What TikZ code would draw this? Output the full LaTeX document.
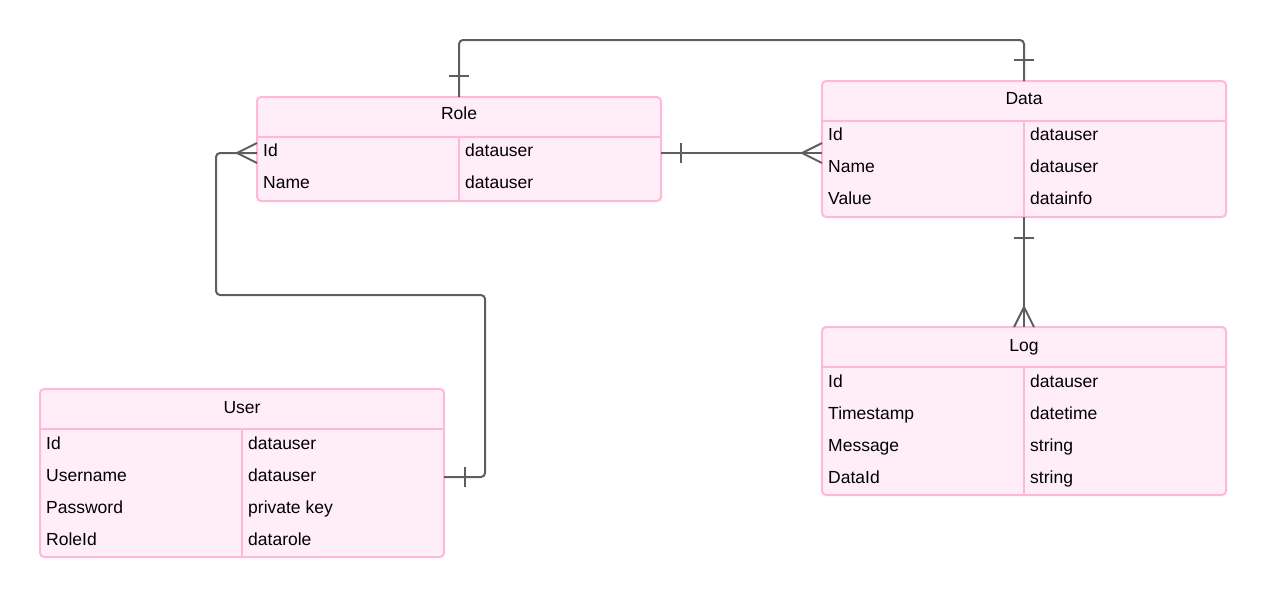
\documentclass[tikz,border=0pt]{standalone}
\usepackage{fontspec}
\setmainfont{Liberation Sans}
\usetikzlibrary{calc}
\definecolor{pinkborder}{HTML}{FFB8DA}
\definecolor{pinkfill}{HTML}{FFEEF8}
\definecolor{linkgray}{HTML}{5E5E5E}
\tikzset{
  entity/.style={draw=pinkborder, fill=pinkfill, line width=2pt, rounded corners=4pt,
    inner sep=0pt, outer sep=0pt, anchor=north west},
  sepline/.style={draw=pinkborder, line width=2pt},
  txt/.style={anchor=base west, inner sep=0pt, font=\fontsize{17.5}{20}\selectfont},
  ttl/.style={anchor=base, inner sep=0pt, font=\fontsize{17.5}{20}\selectfont},
  link/.style={draw=linkgray, line width=2pt, rounded corners=4pt},
  tickbar/.style={draw=linkgray, line width=2pt},
  crowfoot/.style={draw=linkgray, line width=2pt}
}
\begin{document}
\begin{tikzpicture}[x=1pt,y=-1pt]
\useasboundingbox (0,0) rectangle (1267,598);

% ---------- Role ----------
\node[entity, minimum width=404pt, minimum height=104pt] (role) at (257,97) {};
\draw[sepline] (257,137) -- (661,137);
\draw[sepline] (459,137) -- (459,201);
\node[ttl] (roleT) at (459,119.5) {Role};
\node[txt] (roleA1) at (263,156.5) {Id};
\node[txt] (roleB1) at (465,156.5) {datauser};
\node[txt] (roleA2) at (263,188.5) {Name};
\node[txt] (roleB2) at (465,188.5) {datauser};

% ---------- Data ----------
\node[entity, minimum width=404pt, minimum height=136pt] (data) at (822,81) {};
\draw[sepline] (822,121) -- (1226,121);
\draw[sepline] (1024,121) -- (1024,217);
\node[ttl] (dataT) at (1024,104) {Data};
\node[txt] (dataA1) at (828,140.5) {Id};
\node[txt] (dataB1) at (1030,140.5) {datauser};
\node[txt] (dataA2) at (828,172.5) {Name};
\node[txt] (dataB2) at (1030,172.5) {datauser};
\node[txt] (dataA3) at (828,204.5) {Value};
\node[txt] (dataB3) at (1030,204.5) {datainfo};

% ---------- Log ----------
\node[entity, minimum width=404pt, minimum height=168pt] (log) at (822,327) {};
\draw[sepline] (822,367) -- (1226,367);
\draw[sepline] (1024,367) -- (1024,495);
\node[ttl] (logT) at (1024,351) {Log};
\node[txt] (logA1) at (828,387) {Id};
\node[txt] (logB1) at (1030,387) {datauser};
\node[txt] (logA2) at (828,419) {Timestamp};
\node[txt] (logB2) at (1030,419) {datetime};
\node[txt] (logA3) at (828,451) {Message};
\node[txt] (logB3) at (1030,451) {string};
\node[txt] (logA4) at (828,483) {DataId};
\node[txt] (logB4) at (1030,483) {string};

% ---------- User ----------
\node[entity, minimum width=404pt, minimum height=168pt] (user) at (40,389) {};
\draw[sepline] (40,429) -- (444,429);
\draw[sepline] (242,429) -- (242,557);
\node[ttl] (userT) at (242,413) {User};
\node[txt] (userA1) at (46,449) {Id};
\node[txt] (userB1) at (248,449) {datauser};
\node[txt] (userA2) at (46,481) {Username};
\node[txt] (userB2) at (248,481) {datauser};
\node[txt] (userA3) at (46,513) {Password};
\node[txt] (userB3) at (248,513) {private key};
\node[txt] (userA4) at (46,545) {RoleId};
\node[txt] (userB4) at (248,545) {datarole};

% ---------- connectors ----------
\coordinate (topY) at (0,40);
\coordinate (rowY) at (0,153);
\coordinate (userY) at (0,477);

% Role -- Data (top)
\draw[link] (role.north) -- (role.north |- topY) -| (data.north);
\draw[tickbar] ($(role.north)+(-10,-21)$) -- ++(20,0);
\draw[tickbar] ($(data.north)+(-10,-21)$) -- ++(20,0);

% Role -- Data (Id row)
\draw[link] (role.east |- rowY) -- (data.west |- rowY);
\draw[tickbar] ($(role.east |- rowY)+(20,-10)$) -- ++(0,20);
\draw[crowfoot] ($(data.west |- rowY)+(0,-10)$) -- ($(data.west |- rowY)+(-20,0)$) -- ($(data.west |- rowY)+(0,10)$);

% Data -- Log
\draw[link] (data.south) -- (log.north);
\draw[tickbar] ($(data.south)+(-10,21)$) -- ++(20,0);
\draw[crowfoot] ($(log.north)+(-10,0)$) -- ($(log.north)+(0,-20)$) -- ($(log.north)+(10,0)$);

% Role -- User
\draw[link] (role.west |- rowY) -- (216,153) -- (216,295) -- (485,295) -- (485,477) -- (user.east |- userY);
\draw[crowfoot] ($(role.west |- rowY)+(0,-10)$) -- ($(role.west |- rowY)+(-20,0)$) -- ($(role.west |- rowY)+(0,10)$);
\draw[tickbar] ($(user.east |- userY)+(21,-10)$) -- ++(0,20);
\end{tikzpicture}
\end{document}
